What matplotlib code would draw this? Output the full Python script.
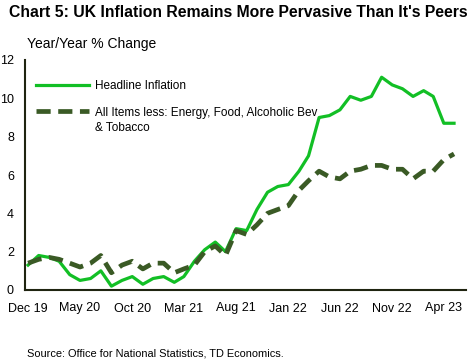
import matplotlib
matplotlib.use('Agg')
from matplotlib import pyplot as plt
import pandas as pd

plt.rcParams['font.family'] = ['Liberation Sans', 'DejaVu Sans']

dates = pd.date_range('2019-12-01', '2023-05-01', freq='MS')

headline = [1.3, 1.8, 1.7, 1.5, 0.8, 0.5, 0.6, 1.0, 0.2, 0.5, 0.7, 0.3,
            0.6, 0.7, 0.4, 0.7, 1.5, 2.1, 2.5, 2.0, 3.2, 3.1, 4.2, 5.1,
            5.4, 5.5, 6.2, 7.0, 9.0, 9.1, 9.4, 10.1, 9.9, 10.1, 11.1, 10.7,
            10.5, 10.1, 10.4, 10.1, 8.7, 8.7]
core = [1.4, 1.6, 1.7, 1.6, 1.4, 1.2, 1.4, 1.8, 0.9, 1.3, 1.5, 1.1,
        1.4, 1.4, 0.9, 1.1, 1.3, 2.0, 2.3, 1.8, 3.1, 2.9, 3.4, 4.0,
        4.2, 4.4, 5.2, 5.7, 6.2, 5.9, 5.8, 6.2, 6.3, 6.5, 6.5, 6.3,
        6.3, 5.8, 6.2, 6.2, 6.8, 7.1]

tick_dates = pd.date_range('2019-12-01', '2023-04-01', freq='5MS')
tick_labels = ['Dec 19', 'May 20', 'Oct 20', 'Mar 21', 'Aug 21',
               'Jan 22', 'Jun 22', 'Nov 22', 'Apr 23']

fig = plt.figure(figsize=(4.76, 3.59), dpi=100)
ax = fig.add_axes([25 / 476, 1 - 290 / 359, (466 - 25) / 476, 230 / 359])

ax.plot(dates, headline, color='#12bf25', lw=2.3, label='Headline Inflation')
ax.plot(dates, core, color='#3a5a25', lw=3.4, dashes=(3, 1.6),
        label='All Items less: Energy, Food, Alcoholic Bev')

ax.set_ylim(0, 12)
ax.set_yticks(range(0, 13, 2))
ax.set_xlim(pd.Timestamp('2019-11-22'), pd.Timestamp('2023-06-05'))
ax.set_xticks(tick_dates)
ax.set_xticklabels(tick_labels)
ax.tick_params(length=0, labelsize=9, pad=9)
ax.tick_params(axis='y', pad=8)
for s in ['top', 'right']:
    ax.spines[s].set_visible(False)
for s in ['left', 'bottom']:
    ax.spines[s].set_color('#1f2410')
    ax.spines[s].set_linewidth(1.5)

leg = ax.legend(loc='upper left', bbox_to_anchor=(0.0, 0.96), frameon=False,
                fontsize=8.5, handlelength=4.5, handletextpad=0.55,
                labelspacing=1.25)
# second line of the core label sits under its first line
ax.text((95 - 25) / 441, (290 - 128) / 230, '& Tobacco', transform=ax.transAxes,
        fontsize=8.5, ha='left', va='center')

fig.text(0.5, 0.965, "Chart 5: UK Inflation Remains More Pervasive Than It's Peers",
         ha='center', va='center', fontsize=11.3, fontweight='bold')
fig.text(27 / 476, 1 - 44 / 359, 'Year/Year % Change', ha='left', va='center',
         fontsize=10)
fig.text(27 / 476, 1 - 353 / 359, 'Source: Office for National Statistics, TD Economics.',
         ha='left', va='center', fontsize=7.9)

fig.savefig('out.png', dpi=100)
